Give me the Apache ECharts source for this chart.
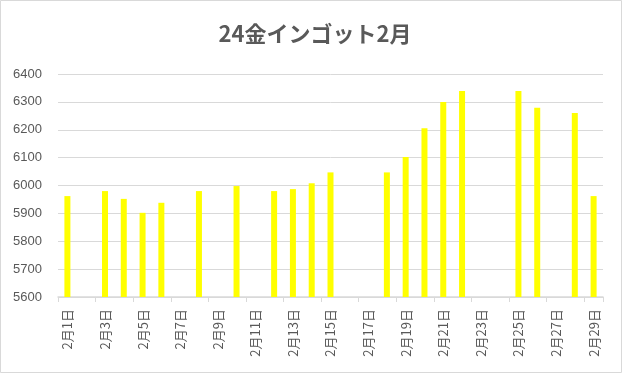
<!DOCTYPE html>
<html>
<head>
<meta charset="utf-8">
<script src="https://cdn.jsdelivr.net/npm/echarts@6/dist/echarts.min.js"></script>
<style>
html,body{margin:0;padding:0;background:#fff;}
#main{width:627px;height:376px;}
</style>
</head>
<body>
<div id="main"></div>
<script>
const titleText = '24金インゴット2月';
const categories = ['2月1日','2月2日','2月3日','2月4日','2月5日','2月6日','2月7日','2月8日','2月9日','2月10日','2月11日','2月12日','2月13日','2月14日','2月15日','2月16日','2月17日','2月18日','2月19日','2月20日','2月21日','2月22日','2月23日','2月24日','2月25日','2月26日','2月27日','2月28日','2月29日'];
const prices = [5962,null,5980,5952,5902,5938,null,5980,null,5998,null,5980,5987,6008,6047,null,null,6047,6102,6205,6300,6339,null,null,6339,6279,null,6260,5962];
const yMin = 5600, yMax = 6400, yStep = 100;

const chart = echarts.init(document.getElementById('main'), null, {renderer:'canvas'});
const font = "'Noto Sans CJK JP', 'Noto Sans', sans-serif";
chart.setOption({
  animation:false,
  backgroundColor:'#ffffff',
  title:{
    text:titleText,
    left:310, top:18, textAlign:'center',
    textStyle:{fontSize:22, fontWeight:'bold', color:'#595959', fontFamily:font}
  },
  graphic:[{
    type:'rect', shape:{x:0.5,y:0.5,width:621,height:372},
    style:{fill:'none', stroke:'#d9d9d9', lineWidth:1}, silent:true
  }],
  grid:{left:58, right:24, top:74, bottom:79, containLabel:false},
  xAxis:{
    type:'category', data:categories, boundaryGap:true,
    axisLine:{show:true, lineStyle:{color:'#d9d9d9', width:1.5}},
    axisTick:{show:true, interval:1, length:5, lineStyle:{color:'#d9d9d9'}},
    axisLabel:{interval:1, rotate:90, margin:12, fontSize:13, color:'#595959', fontFamily:font}
  },
  yAxis:{
    type:'value', min:yMin, max:yMax, interval:yStep,
    axisLine:{show:false}, axisTick:{show:false},
    axisLabel:{fontSize:13, color:'#595959', margin:16, formatter:(v)=>String(v), fontFamily:"'Liberation Sans', 'Noto Sans', sans-serif"},
    splitLine:{lineStyle:{color:'#d9d9d9', width:1}}
  },
  series:[{
    type:'bar', data:prices, barWidth:6,
    itemStyle:{color:'#ffff00'}
  }]
});
</script>
</body>
</html>
